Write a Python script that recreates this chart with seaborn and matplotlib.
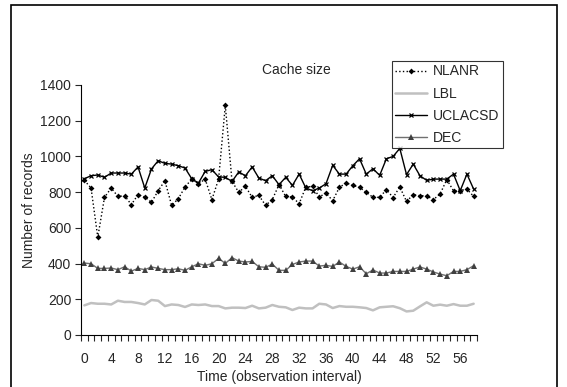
import numpy as np
import pandas as pd
import seaborn as sns
import matplotlib.pyplot as plt
from matplotlib.patches import Rectangle

# values (observation intervals 0..58)
nlanr = [866, 823, 547, 771, 823, 776, 780, 730, 786, 773,
         743, 808, 864, 726, 763, 829, 873, 847, 873, 758,
         873, 1286, 860, 799, 832, 771, 782, 726, 758, 842,
         776, 773, 735, 829, 832, 773, 795, 752, 827, 851,
         838, 827, 799, 771, 771, 814, 770, 829, 748, 786,
         780, 780, 758, 790, 870, 808, 808, 817, 776]
lbl = [166, 179, 175, 175, 171, 192, 185, 185, 179, 171,
       196, 192, 162, 171, 168, 157, 171, 168, 171, 162,
       162, 149, 153, 153, 151, 164, 149, 153, 168, 158,
       155, 140, 153, 149, 149, 175, 171, 151, 162, 158,
       158, 155, 151, 138, 155, 158, 161, 150, 132, 136,
       160, 183, 164, 170, 164, 173, 164, 164, 175]
uclacsd = [875, 892, 896, 883, 907, 907, 907, 901, 941, 823,
           930, 976, 961, 957, 948, 935, 875, 851, 916, 926,
           885, 883, 860, 913, 892, 941, 879, 864, 892, 842,
           883, 838, 901, 823, 808, 823, 847, 950, 901, 901,
           948, 987, 901, 931, 894, 987, 1000, 1045, 898, 957,
           892, 866, 873, 873, 873, 901, 808, 901, 817]
dec = [403, 399, 373, 373, 375, 366, 382, 358, 373, 366,
       381, 373, 366, 366, 371, 362, 382, 399, 390, 399,
       429, 401, 433, 414, 409, 412, 382, 379, 397, 362,
       362, 395, 409, 414, 414, 386, 390, 384, 409, 384,
       369, 382, 343, 364, 347, 347, 356, 356, 356, 369,
       381, 369, 353, 341, 332, 356, 356, 366, 388]
t = np.arange(len(nlanr))
tick_pos = np.arange(0, 57, 4)

sns.set_style("white")
plt.rcParams['font.family'] = ['Liberation Sans', 'DejaVu Sans']
fs = 10

fig = plt.figure(figsize=(5.67, 3.87), dpi=100)
ax = fig.add_axes([81 / 567, 1 - 335 / 387, 396 / 567, 250 / 387])

# outer chart border
fig.patches.append(Rectangle((10.5 / 567, -0.05), 546 / 567, 1 - 5 / 387 + 0.05,
                             transform=fig.transFigure, fill=False,
                             edgecolor='black', linewidth=1.2))

sns.lineplot(x=t, y=nlanr, ax=ax, color='black', linestyle=':', linewidth=1,
             marker='D', markersize=3, markeredgewidth=0, label='NLANR')
sns.lineplot(x=t, y=lbl, ax=ax, color='#c0c0c0', linewidth=1.8, label='LBL')
sns.lineplot(x=t, y=uclacsd, ax=ax, color='black', linewidth=1,
             marker='x', markersize=3.5, markeredgewidth=0.9,
             markeredgecolor='black', label='UCLACSD')
sns.lineplot(x=t, y=dec, ax=ax, color='#707070', linewidth=1,
             marker='^', markersize=4.5, markeredgewidth=0,
             markerfacecolor='#404040', label='DEC')

ax.set_xlim(-0.5, len(t) - 0.5)
ax.set_ylim(0, 1400)
ax.set_yticks(np.arange(0, 1401, 200))
ax.set_xticks(tick_pos)
ax.set_xticks(np.arange(-0.5, len(t), 1), minor=True)
ax.tick_params(axis='x', which='major', length=0, labelsize=fs, pad=12)
ax.tick_params(axis='x', which='minor', length=4, width=0.8, direction='out',
               bottom=True)
ax.tick_params(axis='y', length=4, width=0.8, direction='out', left=True,
               labelsize=fs, pad=3)
for side in ['top', 'right']:
    ax.spines[side].set_visible(False)
for side in ['left', 'bottom']:
    ax.spines[side].set_color('black')
    ax.spines[side].set_linewidth(0.8)

fig.text(296 / 567, 1 - 70 / 387, 'Cache size', fontsize=fs,
         ha='center', va='center')
ax.set_xlabel('Time (observation interval)', fontsize=fs, labelpad=3)
ax.set_ylabel('Number of records', fontsize=fs, labelpad=3)

leg = ax.legend(loc='upper left', bbox_to_anchor=(392 / 567, 1 - 61 / 387),
                bbox_transform=fig.transFigure, fontsize=fs, frameon=True,
                fancybox=False, edgecolor='black', handlelength=2.3,
                borderpad=0.25, labelspacing=0.58, handletextpad=0.4,
                borderaxespad=0)
leg.get_frame().set_linewidth(0.8)
leg.set_zorder(5)

fig.savefig('out.png', dpi=100)
